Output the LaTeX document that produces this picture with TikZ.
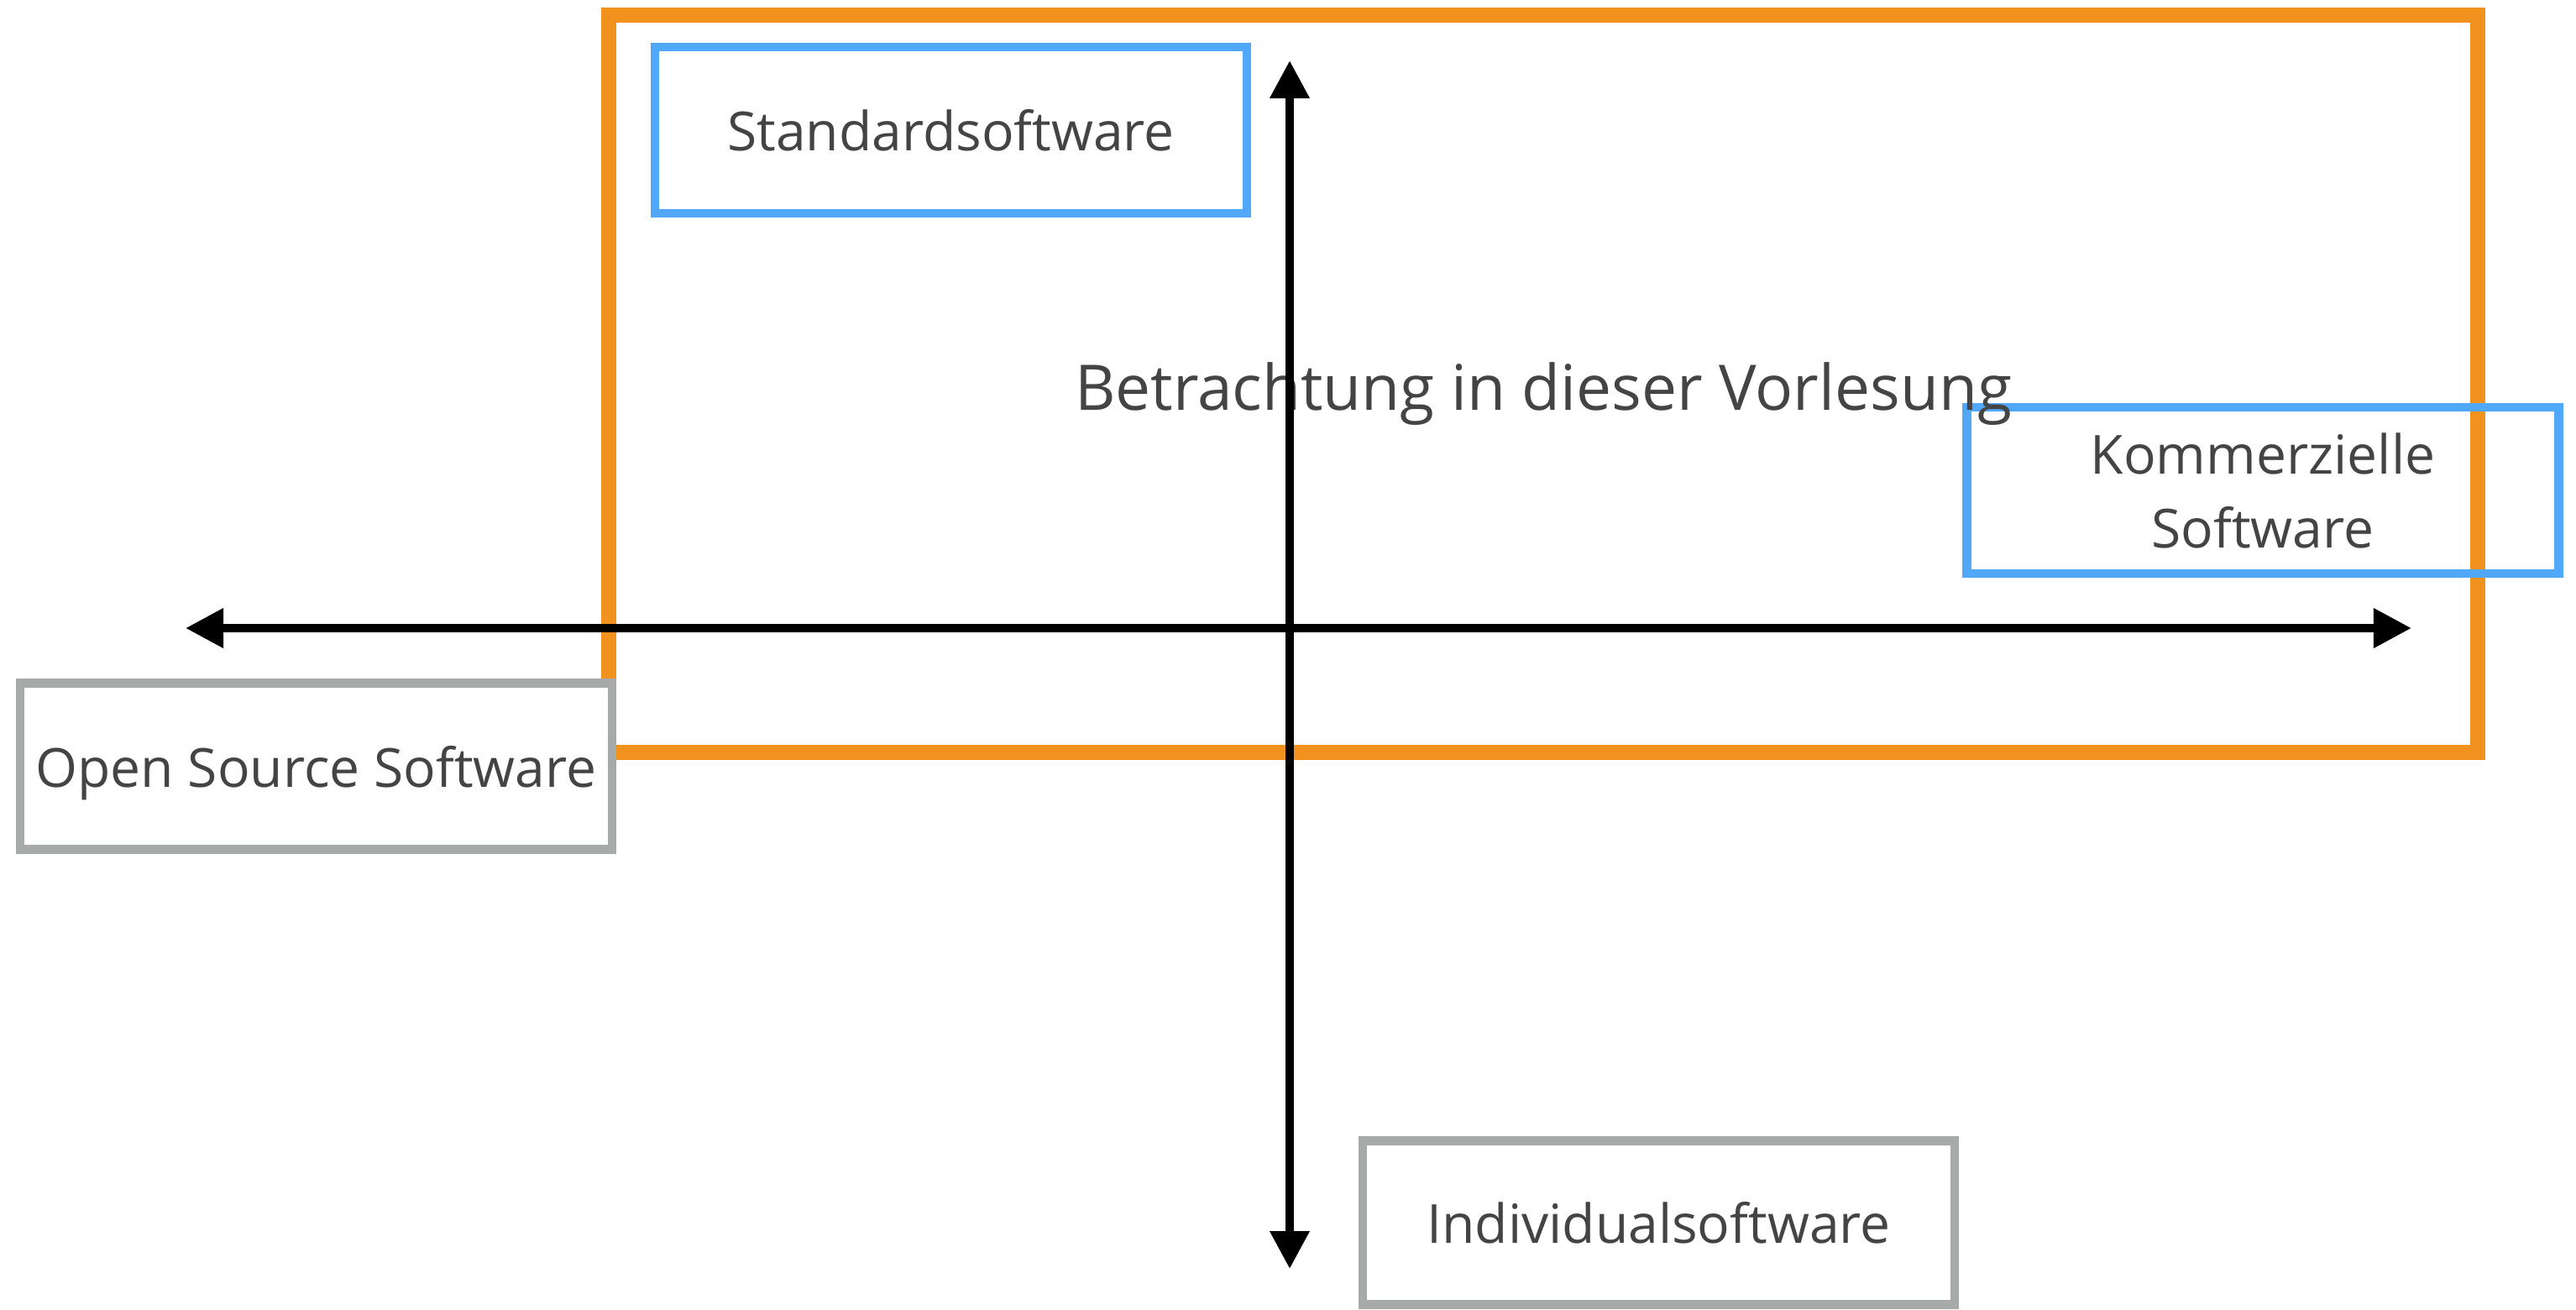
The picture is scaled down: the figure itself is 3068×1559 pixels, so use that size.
\documentclass[tikz,border=0pt]{standalone}
\usepackage{fontspec}
\setmainfont{Open Sans}
\usetikzlibrary{positioning,arrows.meta}
\definecolor{framecolor}{HTML}{F2921E}
\definecolor{bluecolor}{HTML}{52A8F8}
\definecolor{graycolor}{HTML}{A6AAA9}
\definecolor{textcolor}{HTML}{444444}
\tikzset{
    category/.style={draw=bluecolor, line width=3pt, minimum width=7.05cm, minimum height=1.98cm,
        align=center, text=textcolor, font=\fontsize{18.25}{25}\selectfont, inner sep=0pt, text depth=0pt},
    othercat/.style={category, draw=graycolor, fill=white},
    axis/.style={line width=2.85pt, {Triangle[length=0.45cm,width=0.45cm]}-{Triangle[length=0.45cm,width=0.45cm]}}
}

\begin{document}
\begin{tikzpicture}[x=0.01cm,y=-0.01cm]

\useasboundingbox (0,0) rectangle (3068,1559);

% -------------------------
% Rahmen
% -------------------------
\node[draw=framecolor, line width=5.1pt, minimum width=22.24cm, minimum height=8.78cm] (scope) at (1838,457) {};

% -------------------------
% Kategorien
% -------------------------
\node[category] (standard) at (1132.5,155) {Standardsoftware};
\node[category] (commercial) at (2695,584) {Kommerzielle\\Software};
\node[othercat] (opensource) at (376.5,912.5) {Open Source Software};
\node[othercat, minimum height=1.95cm] (individual) at (1975.5,1456) {Individualsoftware};

\node[text=textcolor, font=\fontsize{21.3}{26}\selectfont, yshift=-0.12cm] (title) at (scope.center) {Betrachtung in dieser Vorlesung};

% -------------------------
% Achsen
% -------------------------
\coordinate (xleft) at (221,748);
\coordinate (xright) at (2872,748);
\coordinate (ytop) at (1536,72);
\coordinate (ybottom) at (1536,1511);
\draw[axis] (xleft) -- (xright);
\draw[axis] (ybottom) -- (ytop);

\end{tikzpicture}
\end{document}
